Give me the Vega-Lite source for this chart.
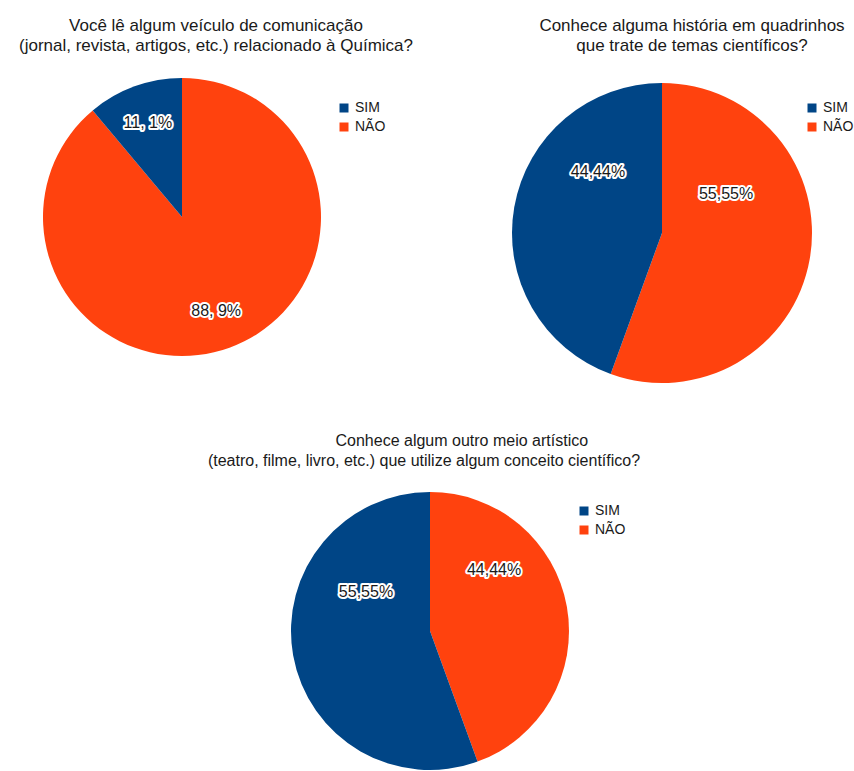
{
  "$schema": "https://vega.github.io/schema/vega-lite/v6.json",
  "background": "white",
  "padding": {"left": 18, "top": 17, "right": 0, "bottom": 0},
  "config": {
    "view": {"stroke": null},
    "font": "Liberation Sans",
    "title": {"fontSize": 16, "fontWeight": "normal", "color": "#1a1a1a", "lineHeight": 20, "offset": 22, "frame": "group", "anchor": "middle"},
    "legend": {"title": null, "orient": "none", "symbolType": "square", "symbolSize": 81, "symbolStrokeWidth": 0, "labelFontSize": 14, "labelColor": "#1a1a1a", "labelFont": "Liberation Sans", "rowPadding": 5, "padding": 0, "labelOffset": 4}
  },
  "spacing": 44,
  "vconcat": [
    {
      "spacing": 98,
      "hconcat": [
        {
          "title": {"text": ["Você lê algum veículo de comunicação", "(jornal, revista, artigos, etc.) relacionado à Química?"], "dx": 34, "fontSize": 17},
          "width": 280,
          "height": 280,
          "data": {"values": [{"resposta": "NÃO", "pct": 88.9, "rotulo": "88, 9%"}, {"resposta": "SIM", "pct": 11.1, "rotulo": "11, 1%"}]},
          "encoding": {
            "theta": {"field": "pct", "type": "quantitative", "stack": true},
            "order": {"field": "resposta", "type": "nominal", "sort": "ascending"}
          },
          "layer": [
            {"mark": {"type": "arc", "outerRadius": 139}, "encoding": {"color": {"field": "resposta", "type": "nominal", "scale": {"domain": ["SIM", "NÃO"], "range": ["#004586", "#ff420e"]}, "legend": {"legendX": 295, "legendY": 24}}}},
            {"mark": {"type": "text", "radius": 100, "fontSize": 16, "stroke": "white", "strokeWidth": 4, "strokeJoin": "round"}, "encoding": {"detail": {"field": "resposta"}, "text": {"field": "rotulo"}, "color": {"value": "white"}}},
            {"mark": {"type": "text", "radius": 100, "fontSize": 16}, "encoding": {"detail": {"field": "resposta"}, "text": {"field": "rotulo"}, "color": {"value": "#1a1a1a"}}}
          ]
        },
        {
          "title": {"text": ["Conhece alguma história em quadrinhos", "que trate de temas científicos?"], "dx": 30, "fontSize": 17},
          "width": 300,
          "height": 312,
          "data": {"values": [{"resposta": "NÃO", "pct": 55.55, "rotulo": "55,55%"}, {"resposta": "SIM", "pct": 44.44, "rotulo": "44,44%"}]},
          "encoding": {
            "theta": {"field": "pct", "type": "quantitative", "stack": true},
            "order": {"field": "resposta", "type": "nominal", "sort": "ascending"}
          },
          "layer": [
            {"mark": {"type": "arc", "outerRadius": 150}, "encoding": {"color": {"field": "resposta", "type": "nominal", "scale": {"domain": ["SIM", "NÃO"], "range": ["#004586", "#ff420e"]}, "legend": {"legendX": 293, "legendY": 24}}}},
            {"mark": {"type": "text", "radius": 65, "dy": -50, "fontSize": 16, "stroke": "white", "strokeWidth": 4, "strokeJoin": "round"}, "encoding": {"detail": {"field": "resposta"}, "text": {"field": "rotulo"}, "color": {"value": "white"}}},
            {"mark": {"type": "text", "radius": 65, "dy": -50, "fontSize": 16}, "encoding": {"detail": {"field": "resposta"}, "text": {"field": "rotulo"}, "color": {"value": "#1a1a1a"}}}
          ]
        }
      ],
      "resolve": {"scale": {"color": "independent"}, "legend": {"color": "independent"}}
    },
    {
      "spacing": 0,
      "hconcat": [
        {
          "width": 165,
          "height": 1,
          "data": {"values": []},
          "mark": {"type": "point", "opacity": 0}
        },
        {
          "title": {"text": ["\u200b\u00a0\u00a0\u00a0\u00a0\u00a0\u00a0\u00a0\u00a0\u00a0\u00a0\u00a0\u00a0\u00a0\u00a0\u00a0\u00a0\u00a0Conhece algum outro meio artístico", "(teatro, filme, livro, etc.) que utilize algum conceito científico?"], "dx": -6},
          "width": 280,
          "height": 280,
          "data": {"values": [{"resposta": "NÃO", "pct": 44.44, "rotulo": "44,44%"}, {"resposta": "SIM", "pct": 55.55, "rotulo": "55,55%"}]},
          "encoding": {
            "theta": {"field": "pct", "type": "quantitative", "stack": true},
            "order": {"field": "resposta", "type": "nominal", "sort": "ascending"}
          },
          "layer": [
            {"mark": {"type": "arc", "outerRadius": 139}, "encoding": {"color": {"field": "resposta", "type": "nominal", "scale": {"domain": ["SIM", "NÃO"], "range": ["#004586", "#ff420e"]}, "legend": {"legendX": 287, "legendY": 13}}}},
            {"mark": {"type": "text", "radius": 65, "dy": -50, "fontSize": 16, "stroke": "white", "strokeWidth": 4, "strokeJoin": "round"}, "encoding": {"detail": {"field": "resposta"}, "text": {"field": "rotulo"}, "color": {"value": "white"}}},
            {"mark": {"type": "text", "radius": 65, "dy": -50, "fontSize": 16}, "encoding": {"detail": {"field": "resposta"}, "text": {"field": "rotulo"}, "color": {"value": "#1a1a1a"}}}
          ]
        }
      ],
      "resolve": {"scale": {"color": "independent"}, "legend": {"color": "independent"}}
    }
  ],
  "resolve": {"scale": {"color": "independent"}, "legend": {"color": "independent"}}
}
